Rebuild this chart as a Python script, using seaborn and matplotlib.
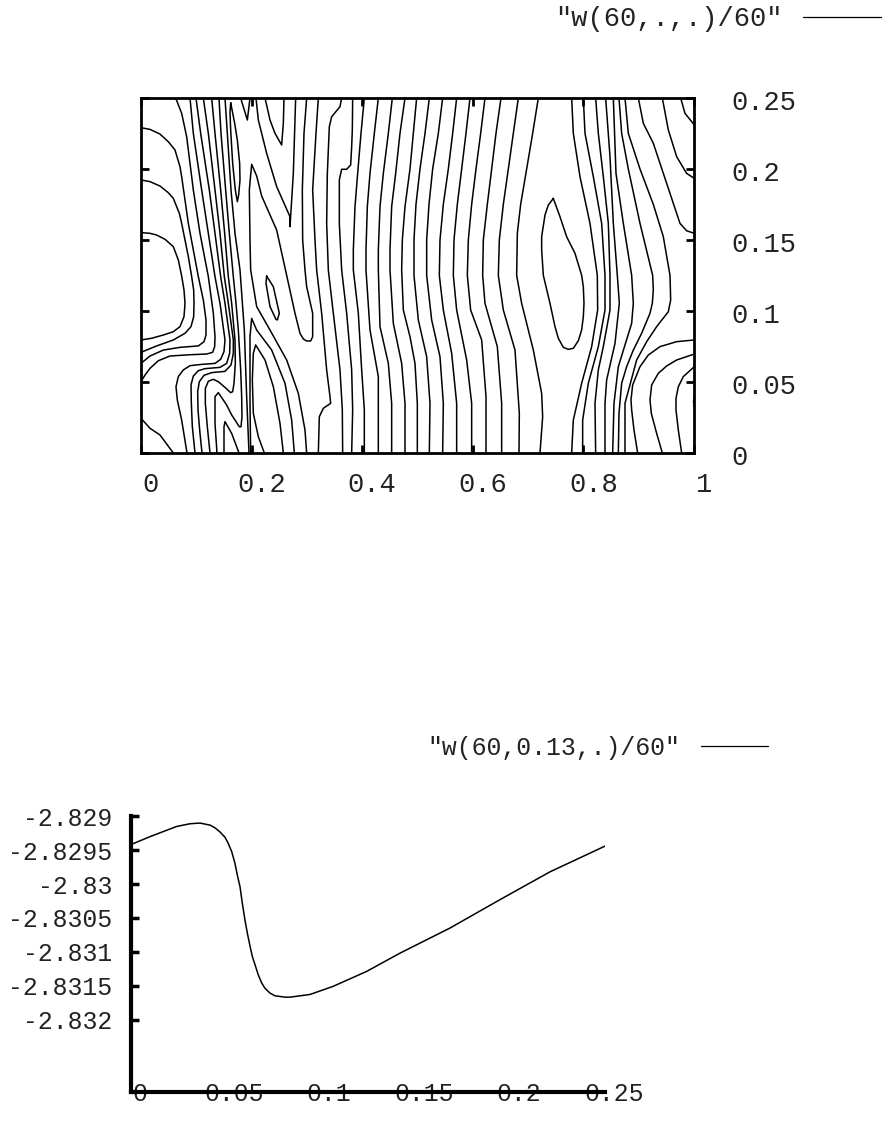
import matplotlib
matplotlib.use("Agg")
import matplotlib.pyplot as plt
from matplotlib.lines import Line2D
from matplotlib.transforms import ScaledTranslation
import numpy as np
import pandas as pd
import seaborn as sns

# ---------- top panel: contours of w(60,.,.)/60 ----------
corner_x = [0, .0162, .0342, .0582]
corner_y = [.0244, .0174, .0127, 0]
arc3_x = [0, .0162, .0282, .0432, .0582, .0672, .0732, .0774, .0792, .0774, .0702, .0582, .0402, .0192, 0]
arc3_y = [.1552, .1547, .1535, .1505, .1453, .1359, .1246, .1148, .1054, .0960, .0890, .0854, .0831, .0808, .0796]
arc2_x = [0, .0162, .0342, .0492, .0582, .069, .0732, .0852, .0912, .0948, .0954, .0948, .09, .0792, .0582, .0282, 0]
arc2_y = [.1923, .1911, .1880, .1833, .1793, .1688, .1617, .1383, .1242, .1148, .1054, .0960, .0890, .0843, .0796, .0754, .0709]
arc1_x = [0, .0162, .0342, .0492, .0612, .0702, .0732, .0852, .1032, .1122, .117, .117, .1134, .1032, .0702, .0402, .0162, 0]
arc1_y = [.2291, .2279, .2246, .2192, .2134, .2016, .1946, .1617, .1242, .1077, .0937, .0831, .0784, .0754, .0744, .0725, .0683, .0631]
arc0_x = [.0624, .0732, .0822, .0942, .1062, .1212, .1302, .1332, .1326, .129, .1182, .0882, .0522, .0312, .0162, .0072, 0]
arc0_y = [.25, .2392, .2228, .1852, .1547, .1242, .0984, .0819, .0749, .0709, .0697, .0692, .0683, .0650, .0596, .0549, .0502]
c1_x = [.0882, .0942, .1092, .1212, .1332, .1422, .1512, .1494, .1434, .1332, .1092, .0882, .0762, .0672, .063, .0654, .0732, .0828]
c1_y = [.25, .2251, .1852, .1547, .1242, .1054, .0796, .0714, .0660, .0631, .0624, .0615, .0585, .0538, .0467, .0373, .0232, 0]
c2_x = [.099, .1074, .123, .1332, .1434, .1512, .1602, .1596, .1542, .1422, .1152, .1032, .0942, .09, .0906, .0924, .0972]
c2_y = [.25, .2251, .1852, .1547, .1242, .1054, .0796, .0702, .0631, .0603, .0594, .0580, .0542, .0479, .035, .0185, 0]
c3_x = [.1122, .1212, .1332, .1422, .15, .1572, .1662, .1662, .162, .1512, .1272, .1134, .105, .102, .1026, .1062, .1098]
c3_y = [.25, .2251, .1852, .1547, .1242, .1054, .0796, .0702, .0620, .0575, .0566, .0547, .0502, .0432, .0303, .0138, 0]
c4_x = [.1272, .1332, .1434, .1506, .1572, .1632, .1692, .1698, .1674, .165, .1614, .1512, .1392, .1302, .1212, .1158, .1158, .1194, .1242]
c4_y = [.25, .2251, .1852, .1547, .1242, .1054, .0796, .0631, .0491, .0432, .0425, .0462, .0502, .0519, .0505, .0455, .035, .0185, 0]
c5_x = [.1404, .144, .1524, .159, .1662, .171, .1752, .1794, .1812, .1818, .18, .177, .1632, .1542, .1392, .1332, .1332, .1368]
c5_y = [.25, .2251, .1852, .1547, .1242, .1054, .0866, .0585, .0397, .0256, .0185, .0185, .0268, .0338, .0425, .0397, .0209, 0]
c6_x = [.1494, .1494, .1512, .1632, .1764]
c6_y = [0, .0185, .0221, .0138, 0]
t285_x = [.1512, .1554, .162, .1692, .1782, .186, .1902, .1944]
t285_y = [.25, .2251, .1852, .1547, .1289, .0866, .0397, 0]
lens1_x = [.1614, .1686, .1734, .1776, .1782, .1758, .1734, .1698, .165, .1614, .1602, .1614]
lens1_y = [.2467, .2322, .2204, .2040, .1923, .1817, .1770, .1852, .2040, .2275, .2397, .2467]
vee0_x = [.1794, .1914, .1962]
vee0_y = [.25, .2345, .25]
vee1_x = [.2232, .2322, .2412, .2532, .2562, .2574]
vee1_y = [.25, .2345, .2251, .2169, .2322, .25]
vee2_x = [.207, .2112, .2262, .2442, .2682, .2682, .2742, .2784]
vee2_y = [.25, .2345, .2110, .1876, .1664, .1594, .1969, .25]
fold_x = [.2982, .2952, .2832, .2622, .2322, .2082, .1974, .1962, .195, .1992, .2082, .2172, .2442, .2622, .2772, .2862, .2922, .2982, .3054, .309, .309, .2982, .2952, .291, .2904, .2934, .2982]
fold_y = [0, .0162, .0420, .0655, .0866, .1031, .1289, .15, .1852, .2033, .1951, .1810, .1570, .1251, .0984, .0843, .0803, .0789, .0789, .0819, .0984, .1171, .1289, .15, .1852, .2251, .25]
lens2_x = [.2262, .2382, .249, .2454, .243, .2322, .225, .2262]
lens2_y = [.1246, .1171, .0984, .0937, .0941, .1031, .1195, .1246]
peak1_x = [.1974, .1962, .1962, .1992, .2082, .2352, .2592, .2712, .276]
peak1_y = [0, .035, .0819, .0948, .0866, .0725, .0491, .0232, 0]
peak2_x = [.222, .2112, .2022, .2004, .2022, .2064, .2232, .2382, .2502, .2562]
peak2_y = [0, .0115, .0279, .0514, .0702, .0761, .0655, .0467, .0209, 0]
b_x = [.3192, .315, .309, .3132, .3162, .3252, .3342, .3402, .3414, .3282, .321, .3192]
b_y = [.25, .2251, .1852, .15, .1289, .0984, .0585, .0397, .035, .0315, .0256, 0]
c_x = [.3612, .3582, .3432, .339, .3354, .3342, .3372, .3462, .3582, .3624, .363]
c_y = [.25, .2439, .2368, .2298, .1969, .1617, .1289, .0984, .0585, .0303, 0]
d_x = [.381, .3804, .3792, .3774, .3702, .3612, .357, .357, .3612, .3702, .3792, .381, .3792]
d_y = [.25, .2275, .2157, .2028, .1998, .1998, .1923, .1617, .1289, .0984, .0585, .0303, 0]
e_x = [.402, .396, .39, .3852, .3822, .3822, .3912, .3972, .402, .402]
e_y = [.25, .2251, .1969, .1735, .143, .1289, .0984, .0585, .0303, 0]
f_x = [.4272, .42, .4122, .4074, .405, .405, .4122, .4272, .4272]
f_y = [.25, .2251, .1969, .1735, .143, .1289, .0866, .0538, 0]
g_x = [.4524, .4452, .4362, .4302, .4272, .4272, .4302, .4452, .4512, .4512]
g_y = [.25, .2251, .1969, .1735, .143, .1289, .089, .0631, .035, 0]
h_x = [.4752, .4662, .4584, .4512, .4482, .4482, .4542, .4692, .4752, .4752]
h_y = [.25, .2251, .1969, .1735, .143, .1289, .0913, .0631, .035, 0]
i_x = [.4962, .4902, .4842, .4752, .4704, .4692, .4722, .4842, .4932, .4974, .4974]
i_y = [.25, .2251, .2, .1735, .15, .1289, .1007, .0819, .0631, .035, 0]
j_x = [.519, .5112, .5022, .495, .4914, .4914, .4992, .5142, .5202, .519]
j_y = [.25, .2251, .2, .1751, .15, .1251, .0937, .0678, .035, 0]
k_x = [.543, .5352, .525, .5184, .5142, .5142, .5232, .5382, .5442, .543]
k_y = [.25, .2251, .2, .1751, .15, .1251, .0937, .0678, .035, 0]
l_x = [.5682, .561, .5532, .5442, .5382, .537, .5442, .5592, .5682, .5682]
l_y = [.25, .2251, .2, .1751, .15, .1251, .1007, .0702, .035, 0]
m_x = [.5922, .585, .5772, .5694, .5634, .5622, .5682, .5862, .5952, .5952]
m_y = [.25, .2251, .2, .1751, .15, .1251, .1007, .0655, .035, 0]
n_x = [.6192, .6114, .603, .5952, .5892, .5874, .5934, .6132, .621, .621]
n_y = [.25, .2251, .2, .1751, .15, .1251, .1007, .0796, .0397, 0]
o_x = [.648, .639, .6312, .6234, .6162, .615, .6192, .6414, .6492, .6492]
o_y = [.25, .2251, .2, .1751, .15, .1251, .1054, .0749, .035, 0]
p_x = [.6792, .6702, .6612, .6522, .645, .6432, .6522, .6732, .681, .6804]
p_y = [.25, .2251, .2, .1751, .15, .1251, .1007, .0725, .0279, 0]
q_x = [.7152, .705, .6942, .6834, .6774, .6762, .6852, .7062, .7212, .723, .7182]
q_y = [.25, .2251, .2, .1751, .1547, .1251, .1054, .0725, .0420, .0256, 0]
loop_x = [.7422, .7332, .7272, .7212, .7212, .7242, .7362, .7452, .7512, .7602, .7692, .7782, .7872, .7932, .7962, .7974, .7962, .7932, .7812, .7662, .7542, .7422]
loop_y = [.1793, .1746, .1676, .1523, .143, .1251, .1054, .089, .0808, .0744, .073, .0737, .0791, .0866, .096, .1054, .1171, .1251, .1406, .1523, .1664, .1793]
r_x = [.7752, .7782, .7902, .8082, .8214, .822, .8112, .7932, .7782, .7752]
r_y = [.25, .2251, .1946, .1617, .1251, .1007, .0749, .0491, .0232, 0]
s_x = [.7962, .7992, .8142, .8292, .8352, .8352, .8232, .8052, .795, .795]
s_y = [.25, .2251, .1946, .1617, .1251, .1007, .0749, .0491, .0232, 0]
t_x = [.8184, .8232, .8322, .8412, .8442, .8442, .8322, .8232, .8172, .8184]
t_y = [.25, .2251, .1946, .1617, .1251, .1007, .0749, .0585, .035, 0]
u_x = [.8364, .8442, .8502, .8574, .861, .8532, .8382, .8352, .8352]
u_y = [.25, .2087, .1617, .1251, .1054, .0772, .0514, .035, 0]
v_x = [.8502, .855, .8682, .8832, .8862, .8832, .8712, .8592, .8514, .849]
v_y = [.25, .1969, .1617, .1251, .1054, .0913, .0761, .0608, .035, 0]
w_x = [.8604, .8652, .8772, .8982, .921, .9222, .9204, .9162, .9012, .8862, .8742, .8652, .8604, .8592]
w_y = [.25, .2251, .2, .1617, .1251, .1148, .1054, .0984, .0843, .0725, .0608, .0491, .0279, 0]
x1_x = [.8712, .8772, .8982, .9222, .9402, .9522, .9528, .9534, .9492, .9282, .9102, .8922, .8712, .8712]
x1_y = [.25, .2251, .2, .1751, .1523, .1251, .1171, .1077, .0995, .089, .0784, .0655, .035, 0]
y1_x = [.8952, .9042, .9222, .9462, .9702, .9822, .996]
y1_y = [.25, .2322, .2181, .1899, .1617, .1565, .1547]
y2_x = [.9384, .9492, .9642, .9822, .996]
y2_y = [.25, .2275, .2087, .1969, .1934]
y3_x = [.9714, .9792, .996]
y3_y = [.25, .2392, .2310]
z1_x = [.894, .8874, .8832, .882, .885, .8982, .9132, .9342, .9642, .996]
z1_y = [0, .0162, .0303, .0373, .0479, .0608, .069, .0749, .0784, .0796]
z2_x = [.9384, .9282, .9186, .9162, .9192, .9312, .9462, .9642, .996]
z2_y = [0, .0138, .0279, .0373, .0479, .0561, .0613, .0655, .0697]
z3_x = [.9732, .9672, .963, .963, .9672, .9762, .996]
z3_y = [0, .0162, .0303, .0385, .0467, .0538, .0608]
z4_x = [.996, .9945, .996]
z4_y = [.0397, .0362, .0326]

CONTOUR_NAMES = ["corner", "arc3", "arc2", "arc1", "arc0", "c1", "c2", "c3", "c4", "c5", "c6",
                 "t285", "lens1", "vee0", "vee1", "vee2", "fold", "lens2", "peak1", "peak2",
                 "b", "c", "d", "e", "f", "g", "h", "i", "j", "k", "l", "m", "n", "o", "p", "q",
                 "loop", "r", "s", "t", "u", "v", "w", "x1", "y1", "y2", "y3", "z1", "z2", "z3", "z4"]
X_READING_UNIT = 1.0046  # the x readings above were taken on a slightly short ruler

top_xticks = [0, 0.2, 0.4, 0.6, 0.8, 1]
top_xlabels = ["0", "0.2", "0.4", "0.6", "0.8", "1"]
top_yticks = [0, 0.05, 0.1, 0.15, 0.2, 0.25]
top_ylabels = ["0", "0.05", "0.1", "0.15", "0.2", "0.25"]
top_legend = '"w(60,.,.)/60"'

# ---------- bottom panel: w(60,0.13,.)/60 ----------
section_x = [0, .0103, .0243, .0313, .0366, .0419, .0445, .0471, .0498, .0515, .0533, .0550, .0563, .0577,
             .0589, .0603, .0616, .0630, .0642, .0656, .0673, .0691, .0709, .0735, .0761, .0788, .0814,
             .0840, .0893, .0946, .1068, .1244, .1420, .1683, .1947, .2210, .25]
section_y = [-2.82942, -2.82930, -2.82915, -2.82911, -2.82910, -2.82913, -2.82917, -2.82923, -2.82931,
             -2.82940, -2.82952, -2.82969, -2.82987, -2.83004, -2.83028, -2.83053, -2.83073, -2.83092,
             -2.83107, -2.83119, -2.83134, -2.83146, -2.83154, -2.83161, -2.83165, -2.83166, -2.83167,
             -2.83167, -2.83165, -2.83163, -2.83151, -2.83129, -2.83102, -2.83065, -2.83023, -2.82982, -2.82944]
bot_xticks = [0, 0.05, 0.1, 0.15, 0.2, 0.25]
bot_xlabels = ["0", "0.05", "0.1", "0.15", "0.2", "0.25"]
bot_yticks = [-2.829, -2.8295, -2.83, -2.8305, -2.831, -2.8315, -2.832]
bot_ylabels = ["-2.829", "-2.8295", "-2.83", "-2.8305", "-2.831", "-2.8315", "-2.832"]
bot_legend = '"w(60,0.13,.)/60"'

sns.set_theme(style="white")
plt.rcParams["font.family"] = ["Liberation Mono", "DejaVu Sans"]
plt.rcParams["text.color"] = "#222222"

W, H, DPI = 882, 1137, 100
fig = plt.figure(figsize=(W / DPI, H / DPI), dpi=DPI, facecolor="white")


def axes_px(left, top, right, bottom):
    return fig.add_axes([left / W, 1 - bottom / H, (right - left) / W, (bottom - top) / H])


def shift_labels(labels, dx_px, dy_px):
    for lab in labels:
        lab.set_transform(lab.get_transform() + ScaledTranslation(dx_px / DPI, dy_px / DPI, fig.dpi_scale_trans))


# top panel
ax1 = axes_px(141, 98, 694, 453)
frames = []
for name in CONTOUR_NAMES:
    xs, ys = globals()[name + "_x"], globals()[name + "_y"]
    frames.append(pd.DataFrame({"x": np.array(xs) * X_READING_UNIT, "y": ys, "contour": name}))
contours = pd.concat(frames, ignore_index=True)
sns.lineplot(data=contours, x="x", y="y", units="contour", estimator=None, sort=False,
             color="black", linewidth=1.1, ax=ax1, errorbar=None, legend=False)
ax1.set(xlim=(0, 1), ylim=(0, 0.25), xlabel="", ylabel="")
ax1.set_xticks(top_xticks, top_xlabels)
ax1.set_yticks(top_yticks, top_ylabels)
ax1.tick_params(axis="both", direction="in", length=5.8, width=2, color="black", labelsize=19.5,
                top=True, bottom=True, left=True, right=True, labelleft=False, labelright=True,
                labelcolor="#222222")
ax1.tick_params(axis="x", pad=14)
ax1.tick_params(axis="y", pad=27)
shift_labels(ax1.get_xticklabels(), 10, 0)
shift_labels(ax1.get_yticklabels(), 0, -2)
for s in ax1.spines.values():
    s.set_visible(True)
    s.set_linewidth(2)
    s.set_color("black")
ax1.legend(handles=[Line2D([], [], color="black", linewidth=0.9, label=top_legend)],
           loc="center right", bbox_to_anchor=(1.0, 1 - 19 / H), bbox_transform=fig.transFigure,
           frameon=False, markerfirst=False, fontsize=19.5, handlelength=2.93, handletextpad=0.75,
           borderpad=0, borderaxespad=0)

# bottom panel
ax2 = axes_px(130.5, 816.3, 605, 1092)
section = pd.DataFrame({"x": section_x, "y": section_y})
sns.lineplot(data=section, x="x", y="y", estimator=None, sort=False, color="black", linewidth=1.1,
             ax=ax2, errorbar=None, legend=False)
ax2.set(xlim=(0, 0.25), ylim=(-2.83307, -2.829), xlabel="", ylabel="")
ax2.set_xticks(bot_xticks, bot_xlabels)
ax2.set_yticks(bot_yticks, bot_ylabels)
ax2.tick_params(axis="y", direction="in", length=5.5, width=2.5, color="black", labelsize=17.8,
                left=True, pad=13, labelcolor="#222222")
ax2.tick_params(axis="x", direction="in", length=0, labelsize=17.8, pad=-7, labelcolor="#222222")
shift_labels(ax2.get_xticklabels(), 9, 0)
for k, s in ax2.spines.items():
    s.set_visible(k in ("left", "bottom"))
    s.set_linewidth(3)
    s.set_color("black")
ax2.legend(handles=[Line2D([], [], color="black", linewidth=0.9, label=bot_legend)],
           loc="center right", bbox_to_anchor=(768 / W, 1 - 748 / H), bbox_transform=fig.transFigure,
           frameon=False, markerfirst=False, fontsize=17.8, handlelength=2.71, handletextpad=0.85,
           borderpad=0, borderaxespad=0)

fig.savefig("out.png", dpi=DPI, facecolor="white")
